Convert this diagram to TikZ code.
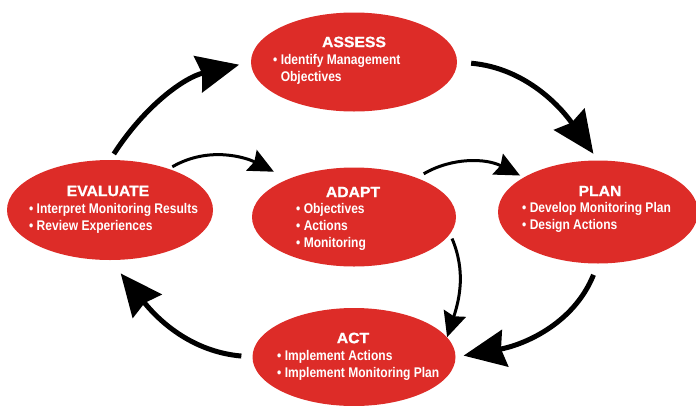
\documentclass[tikz,border=0pt]{standalone}
\usepackage{fontspec}
\setmainfont{Liberation Sans}[FakeStretch=0.86]
\newfontfamily\headfont{Liberation Sans}[FakeStretch=1.05,BoldFeatures={FakeBold=1}]
\usetikzlibrary{shapes.geometric,arrows.meta}
\definecolor{stagered}{RGB}{221,44,40}

\begin{document}
\begin{tikzpicture}[x=1pt,y=1pt,
	stage/.style={ellipse,fill=stagered,inner sep=0pt},
	head/.style={text=white,font=\headfont\fontsize{15}{17}\selectfont\bfseries,inner sep=0pt},
	items/.style={text=white,font=\fontsize{14}{17}\selectfont\bfseries,align=left,inner sep=0pt,anchor=north west},
	bigarrow/.style={line width=5pt,-{Stealth[length=42pt,width=37pt,inset=4pt]}},
	smallarrow/.style={line width=3pt,-{Stealth[length=25pt,width=23pt,inset=3pt]}}]

	\useasboundingbox (0,0) rectangle (696,-405);

	\node[stage,minimum width=206pt,minimum height=99pt] (assess) at (354,-62) {};
	\node[stage,minimum width=206pt,minimum height=100pt] (evaluate) at (110,-210) {};
	\node[stage,minimum width=204pt,minimum height=99pt] (adapt) at (354,-217) {};
	\node[stage,minimum width=200pt,minimum height=103pt] (plan) at (598,-212) {};
	\node[stage,minimum width=203pt,minimum height=98pt] (act) at (354,-357) {};

	\node[head] (assess-head) at (354,-42) {ASSESS};
	\node[items] (assess-items) at (273,-54) {\textbullet\ Identify Management\\\hphantom{\textbullet\ }Objectives};
	\node[head] (evaluate-head) at (108,-191) {EVALUATE};
	\node[items] (evaluate-items) at (29,-203) {\textbullet\ Interpret Monitoring Results\\\textbullet\ Review Experiences};
	\node[head] (adapt-head) at (353,-192) {ADAPT};
	\node[items] (adapt-items) at (296,-203) {\textbullet\ Objectives\\\textbullet\ Actions\\\textbullet\ Monitoring};
	\node[head] (plan-head) at (600,-191) {PLAN};
	\node[items] (plan-items) at (522,-202) {\textbullet\ Develop Monitoring Plan\\\textbullet\ Design Actions};
	\node[head] (act-head) at (353,-338) {ACT};
	\node[items] (act-items) at (277,-350) {\textbullet\ Implement Actions\\\textbullet\ Implement Monitoring Plan};

	\draw [bigarrow,shorten <=7pt,shorten >=12pt] (evaluate.north) to[out=57,in=193] (assess.west);
	\draw [bigarrow,shorten <=14pt,shorten >=8pt] (assess.east) to[out=-5,in=125] (plan.north);
	\draw [bigarrow,shorten <=12pt,shorten >=8pt] (plan.south) to[out=248,in=10] (act.east);
	\draw [bigarrow,shorten <=11pt,shorten >=17pt] (act.west) to[out=175,in=309] (evaluate.south);
	\draw [smallarrow,shorten <=4pt,shorten >=16pt] (evaluate.35) to[out=30,in=153] (adapt.150);
	\draw [smallarrow,shorten <=8pt,shorten >=4pt] (adapt.32) to[out=30,in=153] (plan.155);
	\draw [smallarrow,shorten <=5pt] (adapt.-10) to[out=-67,in=72] (act.12);
\end{tikzpicture}
\end{document}
